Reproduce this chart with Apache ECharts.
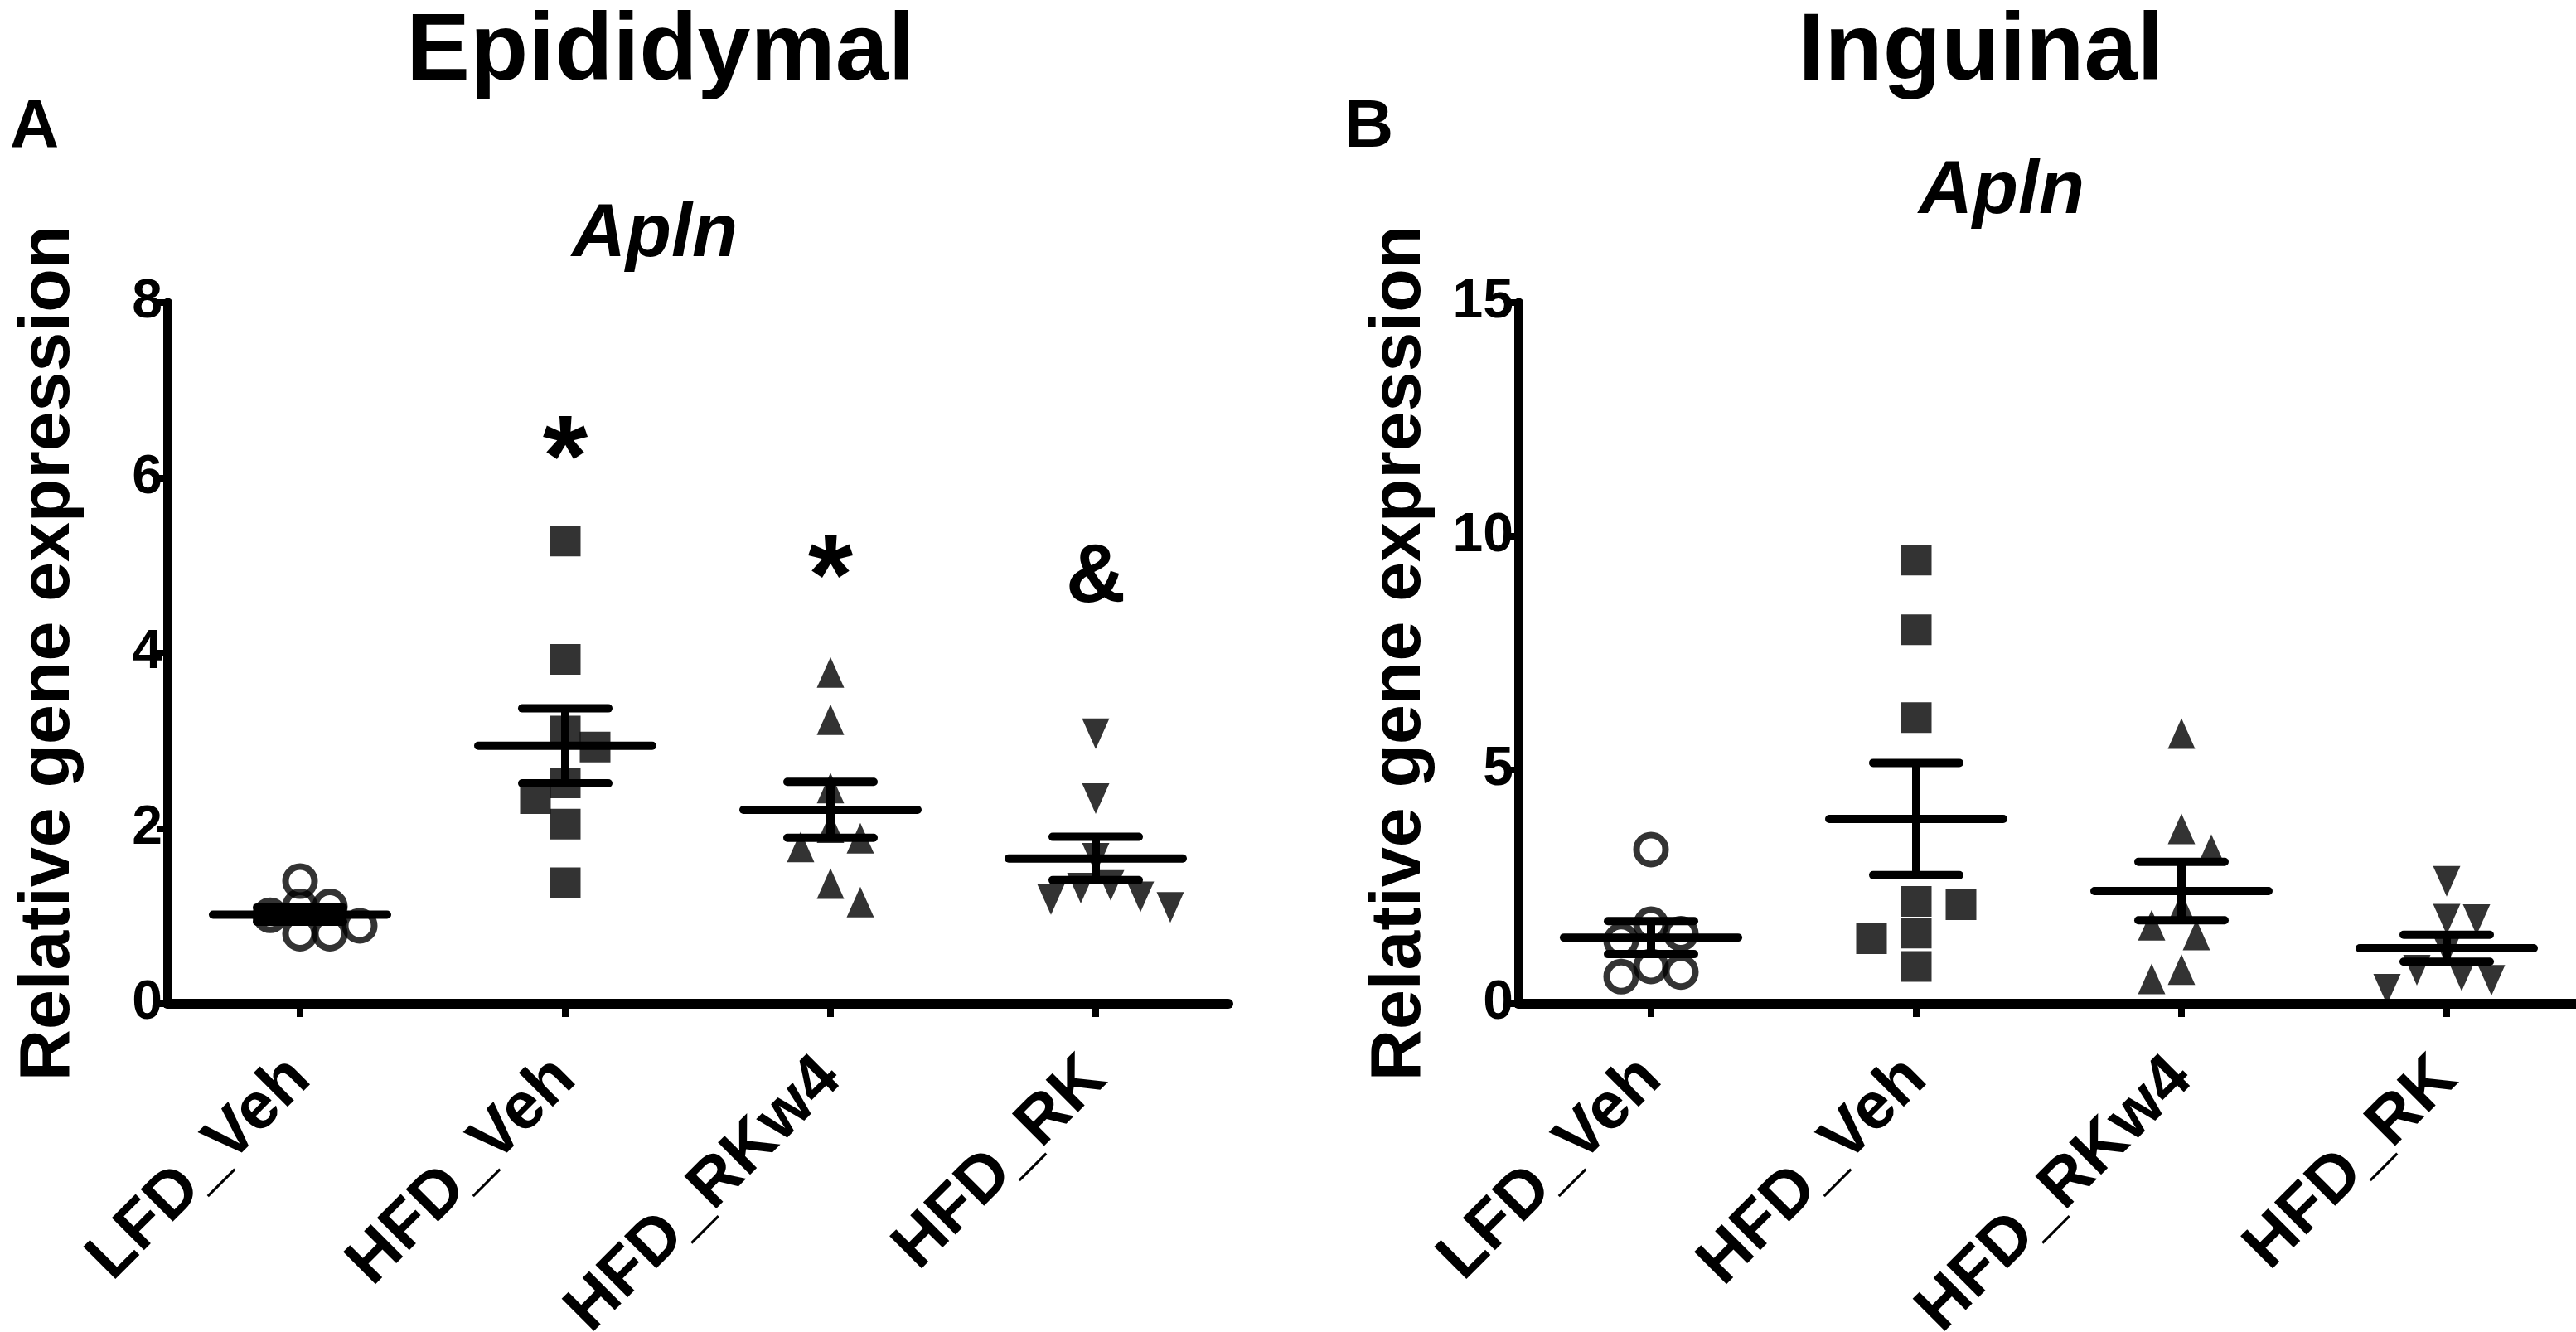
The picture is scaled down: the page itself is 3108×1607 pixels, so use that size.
<!DOCTYPE html>
<html>
<head>
<meta charset="utf-8">
<script src="https://cdn.jsdelivr.net/npm/echarts@6/dist/echarts.min.js"></script>
<style>
html,body{margin:0;padding:0;background:#fff;}
#c{width:3108px;height:1607px;}
</style>
</head>
<body>
<div id="c"></div>
<script>
// ---------- data ----------
const categories = ['LFD_Veh', 'HFD_Veh', 'HFD_RKw4', 'HFD_RK'];

// Panel A – Epididymal, Apln
const epiLFDVeh  = [1.40, 1.11, 1.11, 1.01, 0.89, 0.80, 0.80];
const epiHFDVeh  = [5.28, 3.93, 3.11, 2.93, 2.52, 2.34, 2.05, 1.38];
const epiHFDRKw4 = [3.78, 3.24, 2.46, 2.01, 1.89, 1.79, 1.37, 1.16];
const epiHFDRK   = [3.08, 2.34, 1.66, 1.35, 1.32, 1.22, 1.19, 1.10];

// Panel B – Inguinal, Apln
const ingLFDVeh  = [3.30, 1.70, 1.50, 1.35, 0.80, 0.68, 0.58];
const ingHFDVeh  = [9.49, 8.00, 6.12, 2.19, 2.12, 1.51, 1.39, 0.80];
const ingHFDRKw4 = [5.78, 3.74, 3.30, 2.06, 1.68, 1.47, 0.73, 0.53];
const ingHFDRK   = [2.62, 1.81, 1.80, 1.14, 0.72, 0.60, 0.50, 0.31];

const ticksA = [0, 2, 4, 6, 8];
const ticksB = [0, 5, 10, 15];

// significance marks above panel A groups
const sigLabelsA  = ['', '*', '*', '&'];
const sigHeightsA = [null, 6.45, 5.1, 4.85];

// ---------- helpers ----------
const FONT = '"Liberation Sans", Arial, Helvetica, sans-serif';
const mean = a => a.reduce((s, v) => s + v, 0) / a.length;
const sem = a => {
  const m = mean(a);
  const sd = Math.sqrt(a.reduce((s, v) => s + (v - m) * (v - m), 0) / (a.length - 1));
  return sd / Math.sqrt(a.length);
};

const panels = [
  { groups: [epiLFDVeh, epiHFDVeh, epiHFDRKw4, epiHFDRK], ticks: ticksA },
  { groups: [ingLFDVeh, ingHFDVeh, ingHFDRKw4, ingHFDRK], ticks: ticksB }
];

const markerStyles = [
  { symbol: 'circle',   size: 35,       rotate: 0,   minDist: 30, itemStyle: { color: 'rgba(0,0,0,0)', borderColor: '#000', borderWidth: 8 } },
  { symbol: 'rect',     size: 37,       rotate: 0,   minDist: 37, itemStyle: { color: '#000' } },
  { symbol: 'triangle', size: [33, 37], rotate: 0,   minDist: 34, itemStyle: { color: '#000' } },
  { symbol: 'triangle', size: [33, 37], rotate: 180, minDist: 34, itemStyle: { color: '#000' } }
];

const chart = echarts.init(document.getElementById('c'), null, { renderer: 'canvas', width: 3108, height: 1607 });

const grids = [
  { left: 202,  top: 365, width: 1280, height: 846, containLabel: false, outerBoundsMode: 'none' },
  { left: 1832, top: 365, width: 1280, height: 846, containLabel: false, outerBoundsMode: 'none' }
];

function xAxisFor(p) {
  return {
    type: 'category', gridIndex: p, data: categories, boundaryGap: true,
    axisLine: { show: true, lineStyle: { color: '#000', width: 12 } },
    axisTick: { show: true, alignWithLabel: true, length: 16, lineStyle: { color: '#000', width: 8 } },
    axisLabel: { interval: 0, rotate: 45, margin: 78, color: '#000', fontSize: 80, fontWeight: 'bold', fontFamily: FONT },
    splitLine: { show: false }
  };
}
function yAxisFor(p) {
  const t = panels[p].ticks;
  return {
    type: 'value', gridIndex: p, min: t[0], max: t[t.length - 1], interval: t[1] - t[0],
    name: 'Relative gene expression', nameLocation: 'middle', nameRotate: 90, nameGap: 100,
    nameTextStyle: { color: '#000', fontSize: 86, fontWeight: 'bold', fontFamily: FONT },
    axisLine: { show: true, lineStyle: { color: '#000', width: 11 } },
    axisTick: { show: true, length: 12, lineStyle: { color: '#000', width: 8 } },
    axisLabel: { color: '#000', fontSize: 66, fontWeight: 'bold', fontFamily: FONT, margin: 6 },
    splitLine: { show: false }
  };
}

function renderMeanSem(params, api) {
  const i = api.value(0), m = api.value(1), s = api.value(2);
  const c = api.coord([i, m]);
  const t = api.coord([i, m + s]);
  const b = api.coord([i, m - s]);
  const st = { stroke: '#000', lineWidth: 10, lineCap: 'round' };
  return {
    type: 'group',
    children: [
      { type: 'line', shape: { x1: c[0], y1: t[1], x2: c[0], y2: b[1] }, style: { stroke: '#000', lineWidth: 10 } },
      { type: 'line', shape: { x1: c[0] - 105, y1: c[1], x2: c[0] + 105, y2: c[1] }, style: st },
      { type: 'line', shape: { x1: c[0] - 52, y1: t[1], x2: c[0] + 52, y2: t[1] }, style: st },
      { type: 'line', shape: { x1: c[0] - 52, y1: b[1], x2: c[0] + 52, y2: b[1] }, style: st }
    ]
  };
}

const sigFont = { '*': 140, '&': 100 };
function renderSig(params, api) {
  const i = api.value(0), h = api.value(1);
  const label = sigLabelsA[i];
  if (!label) return null;
  const c = api.coord([i, h]);
  const fs = sigFont[label] || 100;
  return {
    type: 'text', x: c[0], y: c[1] + (label === '*' ? fs * 0.22 : 0),
    style: { text: label, font: 'bold ' + fs + 'px ' + FONT, fill: '#000',
             align: 'center', verticalAlign: 'middle', textAlign: 'center', textVerticalAlign: 'middle' }
  };
}

function buildSeries(offsets) {
  const series = [];
  panels.forEach((panel, p) => {
    panel.groups.forEach((g, gi) => {
      const ms = markerStyles[gi];
      series.push({
        id: 'pts-' + p + '-' + gi, type: 'scatter', xAxisIndex: p, yAxisIndex: p,
        symbol: ms.symbol, symbolSize: ms.size, symbolRotate: ms.rotate,
        itemStyle: ms.itemStyle, z: 2, silent: true,
        data: g.map((v, k) => {
          const d = { value: [gi, v] };
          if (offsets) d.symbolOffset = [offsets[p][gi][k], 0];
          return d;
        })
      });
    });
    series.push({
      id: 'ms-' + p, type: 'custom', xAxisIndex: p, yAxisIndex: p, z: 3, silent: true,
      renderItem: renderMeanSem,
      data: panel.groups.map((g, gi) => [gi, mean(g), sem(g)])
    });
  });
  series.push({
    id: 'sig', type: 'custom', xAxisIndex: 0, yAxisIndex: 0, z: 4, silent: true,
    renderItem: renderSig,
    data: sigHeightsA.map((h, i) => [i, h == null ? 0 : h])
  });
  return series;
}

const textEls = [
  { type: 'text', x: 797,  y: 64,  style: { text: 'Epididymal', font: 'bold 115px ' + FONT, fill: '#000', textAlign: 'center', textVerticalAlign: 'middle' } },
  { type: 'text', x: 2390, y: 64,  style: { text: 'Inguinal',   font: 'bold 115px ' + FONT, fill: '#000', textAlign: 'center', textVerticalAlign: 'middle' } },
  { type: 'text', x: 12,   y: 154, style: { text: 'A', font: 'bold 82px ' + FONT, fill: '#000', textAlign: 'left', textVerticalAlign: 'middle' } },
  { type: 'text', x: 1622, y: 154, style: { text: 'B', font: 'bold 82px ' + FONT, fill: '#000', textAlign: 'left', textVerticalAlign: 'middle' } },
  { type: 'text', x: 790,  y: 284, style: { text: 'Apln', font: 'italic bold 90px ' + FONT, fill: '#000', textAlign: 'center', textVerticalAlign: 'middle' } },
  { type: 'text', x: 2415, y: 232, style: { text: 'Apln', font: 'italic bold 90px ' + FONT, fill: '#000', textAlign: 'center', textVerticalAlign: 'middle' } }
];

chart.setOption({
  animation: false,
  backgroundColor: '#fff',
  grid: grids,
  xAxis: [xAxisFor(0), xAxisFor(1)],
  yAxis: [yAxisFor(0), yAxisFor(1)],
  graphic: { elements: textEls },
  series: buildSeries(null)
});

// ---------- spread overlapping points sideways (beeswarm), using the chart's own y scale ----------
function swarm(pxY, minDist, step) {
  const order = pxY.map((y, i) => i).sort((a, b) => pxY[a] - pxY[b]);
  const placed = [];
  const off = new Array(pxY.length).fill(0);
  order.forEach(i => {
    const y = pxY[i];
    const ok = x => placed.every(q => Math.hypot(q.x - x, q.y - y) >= minDist);
    let chosen = null;
    if (ok(0)) chosen = 0;
    for (let k = 1; chosen === null && k < 60; k++) {
      const r = ok(k * step), l = ok(-k * step);
      if (r && l) {
        const sum = placed.reduce((s, q) => s + q.x, 0);
        chosen = sum > 0 ? -k * step : k * step;
      } else if (r) chosen = k * step;
      else if (l) chosen = -k * step;
    }
    off[i] = chosen || 0;
    placed.push({ x: off[i], y: y });
  });
  return off;
}

const offsets = panels.map((panel, p) =>
  panel.groups.map((g, gi) => {
    const pxY = g.map(v => chart.convertToPixel({ gridIndex: p }, [gi, v])[1]);
    return swarm(pxY, markerStyles[gi].minDist, 18);
  })
);

chart.setOption({ series: buildSeries(offsets) });
</script>
</body>
</html>
